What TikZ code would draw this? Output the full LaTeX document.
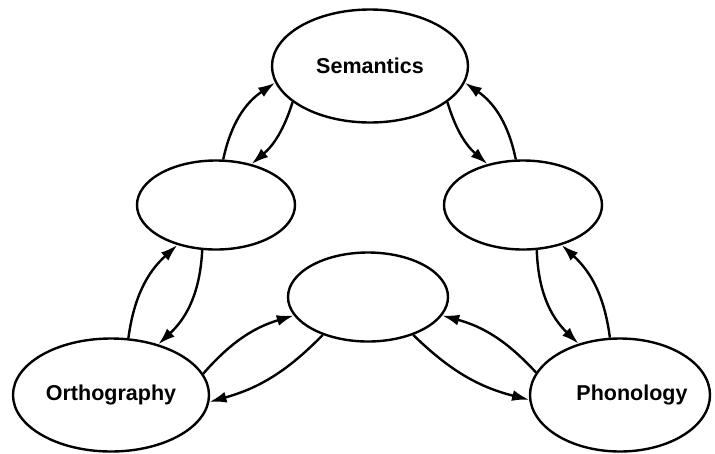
\documentclass[tikz,border=0pt]{standalone}
\usepackage{fontspec}
\setmainfont{Liberation Sans}
\usetikzlibrary{shapes.geometric,arrows.meta}
\begin{document}
\begin{tikzpicture}[x=1pt,y=-1pt,
  lbl/.style={font=\fontsize{21.5}{25}\selectfont\bfseries},
  big/.style={ellipse,draw,line width=2.4pt,minimum width=196pt,minimum height=113pt,inner sep=0pt,lbl},
  small/.style={ellipse,draw,line width=2.4pt,minimum width=158pt,minimum height=89pt,inner sep=0pt},
  link/.style={line width=2.4pt,-{Latex[length=17pt,width=11pt]}}]
\useasboundingbox (0,0) rectangle (715,453);
\node[big] (sem) at (370,66) {Semantics};
\node[big] (orth) at (111,395) {Orthography};
\node[big, minimum width=180pt, label={[lbl,xshift=12pt]center:Phonology}] (phon) at (620,395) {};
\node[small] (lm) at (216,205) {};
\node[small] (rm) at (523,205) {};
\node[small, minimum width=160pt] (cen) at (368,297) {};
% Semantics <-> left middle
\draw[link] (lm.81) to[bend left=22] (sem.190);
\draw[link] (sem.205) to[bend left=16] (lm.49);
% Semantics <-> right middle
\draw[link] (sem.335) to[bend right=16] (rm.131);
\draw[link] (rm.99) to[bend right=22] (sem.350);
% left middle <-> Orthography
\draw[link] (orth.73) to[bend left=20] (lm.226);
\draw[link] (lm.253) to[bend left=22] (orth.47);
% right middle <-> Phonology
\draw[link] (rm.287) to[bend right=22] (phon.129);
\draw[link] (phon.100) to[bend right=20] (rm.314);
% centre <-> Orthography
\draw[link] (orth.13) to[bend left=16] (cen.194);
\draw[link] (cen.220) to[bend left=15] (orth.356);
% centre <-> Phonology
\draw[link] (cen.320) to[bend right=15] (phon.183);
\draw[link] (phon.165) to[bend right=16] (cen.346);
\end{tikzpicture}
\end{document}
